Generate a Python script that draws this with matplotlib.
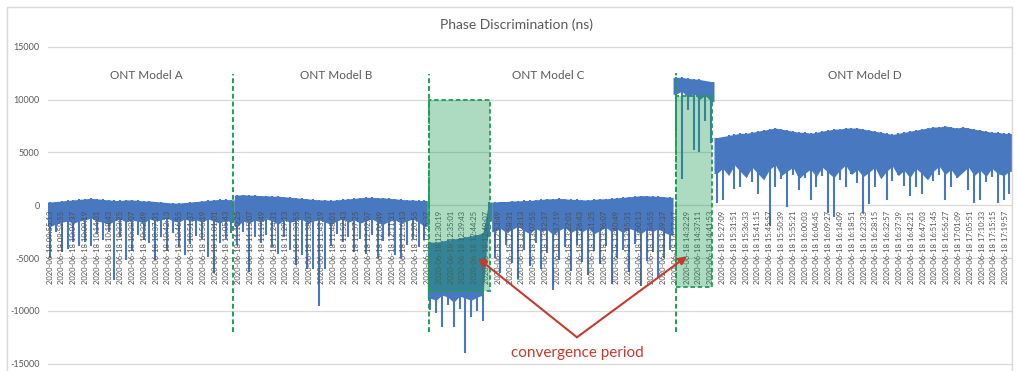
import numpy as np
import matplotlib
matplotlib.use("Agg")
import matplotlib.pyplot as plt
from matplotlib.patches import Rectangle

# ---------------- data ----------------
# each model segment: upper envelope, dense floor, spike minimum (ns)
model_a_top = [300, 350, 400, 450, 500, 550, 600, 650, 600, 550, 500, 450, 450, 500, 500, 450,
               400, 400, 350, 300, 250, 200, 200, 250, 300, 350, 400, 450, 500, 550, 550, 500]
model_a_floor = [-2000, -1800, -1600, -1500, -1700, -1500, -1400, -1200, -1500, -1600, -1800,
                 -1500, -1300, -1600, -1400, -1500, -1700, -1300, -1500, -1400, -1200, -1500,
                 -1600, -1300, -1500, -1400, -1600, -1300, -1500, -1700, -1400, -1600]
model_a_low = [-5000, -2500, -4400, -4100, -3500, -3900, -3500, -3900, -2700, -3300, -2500,
               -7100, -3000, -5200, -4300, -2800, -3300, -3600, -5200, -3000, -4300, -2600,
               -4000, -4700, -3700, -2900, -3200, -4900, -6400, -3600, -3200, -2600]

model_b_top = [950, 1000, 950, 950, 900, 900, 850, 850, 800, 750, 700, 650, 600, 550, 500, 500,
               450, 500, 550, 600, 650, 700, 750, 750, 700, 700, 650, 600, 550, 500, 500, 450, 450]
model_b_floor = [-2000, -1500, -1700, -1400, -1600, -1300, -1500, -1800, -1400, -1600, -1500,
                 -1300, -1700, -1500, -1400, -1600, -1800, -1500, -1300, -1600, -1400, -1700,
                 -1500, -1300, -1600, -1800, -1500, -1400, -1700, -1500, -1300, -1600, -2000]
model_b_low = [-3800, -2500, -6300, -3000, -3600, -2800, -4000, -4600, -3000, -4200, -5700,
               -4700, -6000, -6000, -9500, -6000, -3900, -2700, -3500, -3000, -4400, -3200,
               -4600, -2800, -5000, -3400, -2900, -4700, -5000, -3800, -3200, -4000, -3300]

conv_c_top = [-3500, -3500, -3400, -3300, -3200, -3100, -3000, -2900, -2800, -2600, 300]
conv_c_floor = [-8800, -9000, -8500, -8700, -9200, -8600, -8800, -9000, -8700, -8500, -1500]
conv_c_low = [-9900, -10200, -11500, -9400, -11500, -9800, -14000, -10600, -10000, -11000, -3000]

model_c_top = [300, 350, 350, 400, 400, 450, 450, 500, 550, 600, 600, 650, 600, 550, 550, 500,
               500, 550, 600, 600, 650, 700, 750, 800, 850, 900, 900, 850, 850, 800, 750]
model_c_floor = [-2500, -2200, -2600, -2300, -2000, -2400, -2700, -2200, -2500, -2300, -2800,
                 -2400, -2100, -2600, -2300, -2500, -2200, -2700, -2400, -2100, -2500, -2300,
                 -2600, -2200, -2400, -2700, -2300, -2500, -2200, -2600, -2800]
model_c_low = [-5000, -6400, -3800, -5500, -7000, -4200, -5800, -3600, -6000, -4500, -8000,
               -5200, -4000, -6200, -3800, -5400, -6600, -4300, -5600, -3900, -7500, -5000,
               -4200, -6300, -3700, -7600, -5300, -4400, -6800, -5000, -4200]

conv_d_top = [12100, 12100, 12000, 11950, 11900, 11800, 11700]
conv_d_floor = [10500, 10800, 10200, 10600, 10000, 10400, 9800]
conv_d_low = [7000, 2500, 9000, 5200, 5000, 8000, 5900]

model_d_top = [6400, 6500, 6600, 6700, 6800, 6800, 6900, 7000, 7100, 7200, 7300, 7200, 7100,
               7000, 6900, 6900, 6800, 6900, 7000, 7100, 7200, 7200, 7300, 7300, 7300, 7200,
               7100, 7000, 6900, 6800, 6700, 6800, 6900, 7000, 7100, 7200, 7300, 7400, 7400,
               7500, 7400, 7300, 7400, 7300, 7200, 7100, 7000, 6900, 6900, 6800, 6800]
model_d_floor = [3000, 3500, 2800, 3800, 3200, 2600, 3600, 3000, 2400, 3400, 3800, 2800, 3200,
                 3600, 2500, 3000, 3400, 2700, 3600, 3100, 2600, 3300, 3800, 2900, 3400, 2700,
                 3100, 3600, 2500, 3200, 3700, 2800, 3300, 2600, 3500, 3000, 2400, 3200, 3700,
                 2900, 3400, 2600, 3100, 3600, 2800, 3300, 2700, 3500, 3000, 2800, 3200]
model_d_low = [200, 500, 3300, 1500, 1700, 4900, 2200, 1100, 2800, -2000, 1700, 2500, -200,
               2900, 1400, 2600, 500, 1700, 2800, -700, -1100, 2400, 1700, 3000, 2100, -700,
               100, 1700, 2700, 500, 2300, 2900, 1800, 900, 1700, 1100, 2500, 2300, 2900, 500,
               1700, 2600, 3100, 1400, 200, 500, 2200, 2700, 200, 500, 1100]

tick_labels = [
    "2020-06-18 09:55:13", "2020-06-18 09:59:55", "2020-06-18 10:04:37", "2020-06-18 10:09:19",
    "2020-06-18 10:14:01", "2020-06-18 10:18:43", "2020-06-18 10:23:25", "2020-06-18 10:28:07",
    "2020-06-18 10:32:49", "2020-06-18 10:37:31", "2020-06-18 10:42:13", "2020-06-18 10:46:55",
    "2020-06-18 10:51:37", "2020-06-18 10:56:19", "2020-06-18 11:01:01", "2020-06-18 11:05:43",
    "2020-06-18 11:10:25", "2020-06-18 11:15:07", "2020-06-18 11:19:49", "2020-06-18 11:24:31",
    "2020-06-18 11:29:13", "2020-06-18 11:33:55", "2020-06-18 11:38:37", "2020-06-18 11:43:19",
    "2020-06-18 11:48:01", "2020-06-18 11:52:43", "2020-06-18 11:57:25", "2020-06-18 12:02:07",
    "2020-06-18 12:06:49", "2020-06-18 12:11:31", "2020-06-18 12:16:13", "2020-06-18 12:20:55",
    "2020-06-18 12:25:37", "2020-06-18 12:30:19", "2020-06-18 12:35:01", "2020-06-18 12:39:43",
    "2020-06-18 12:44:25", "2020-06-18 12:49:07", "2020-06-18 12:53:49", "2020-06-18 12:58:31",
    "2020-06-18 13:03:13", "2020-06-18 13:07:55", "2020-06-18 13:12:37", "2020-06-18 13:17:19",
    "2020-06-18 13:22:01", "2020-06-18 13:26:43", "2020-06-18 13:31:25", "2020-06-18 13:36:07",
    "2020-06-18 13:40:49", "2020-06-18 13:45:31", "2020-06-18 13:50:13", "2020-06-18 13:54:55",
    "2020-06-18 13:59:37", "2020-06-18 14:27:47", "2020-06-18 14:32:29", "2020-06-18 14:37:11",
    "2020-06-18 14:41:53", "2020-06-18 15:27:09", "2020-06-18 15:31:51", "2020-06-18 15:36:33",
    "2020-06-18 15:41:15", "2020-06-18 15:45:57", "2020-06-18 15:50:39", "2020-06-18 15:55:21",
    "2020-06-18 16:00:03", "2020-06-18 16:04:45", "2020-06-18 16:09:27", "2020-06-18 16:14:09",
    "2020-06-18 16:18:51", "2020-06-18 16:23:33", "2020-06-18 16:28:15", "2020-06-18 16:32:57",
    "2020-06-18 16:37:39", "2020-06-18 16:42:21", "2020-06-18 16:47:03", "2020-06-18 16:51:45",
    "2020-06-18 16:56:27", "2020-06-18 17:01:09", "2020-06-18 17:05:51", "2020-06-18 17:10:33",
    "2020-06-18 17:15:15", "2020-06-18 17:19:57",
]
y_ticks = [-15000, -10000, -5000, 0, 5000, 10000, 15000]
section_names = ["ONT Model A", "ONT Model B", "ONT Model C", "ONT Model D"]

# ---------------- styling ----------------
plt.rcParams["font.family"] = ["Lato", "DejaVu Sans"]
BLUE = "#4878c0"
GREEN = "#1f9d55"
RED = "#c43b2f"
GRAY = "#595959"
GRID = "#d9d9d9"
STEP = 0.4958  # sample spacing in category units

segments = [
    (model_a_top, model_a_floor, model_a_low),
    (model_b_top, model_b_floor, model_b_low),
    (conv_c_top, conv_c_floor, conv_c_low),
    (model_c_top, model_c_floor, model_c_low),
    (conv_d_top, conv_d_floor, conv_d_low),
    (model_d_top, model_d_floor, model_d_low),
]

W, H = 1017, 371
fig = plt.figure(figsize=(W / 100, H / 100), dpi=100)
fig.patches.append(Rectangle((7 / W, -0.05), 1005 / W, 1.05 - 7 / H, transform=fig.transFigure,
                             fill=False, ec=GRID, lw=1.0))
ax = fig.add_axes([48 / W, 1 - 363.7 / H, 964 / W, (363.7 - 46.7) / H])
ax.set_xlim(-0.17, 81.53)
ax.set_ylim(-15000, 15000)

for v in y_ticks:
    ax.axhline(v, color=GRID, lw=0.9, zorder=0, clip_on=False)

offset = 0
for seg_top, seg_floor, seg_low in segments:
    n = len(seg_top)
    xs = (offset + np.arange(n)) * STEP
    # extend each segment half a step on both sides so segments abut vertically
    xe = np.concatenate([[xs[0] - STEP / 2], xs, [xs[-1] + STEP / 2]])
    te = np.concatenate([[seg_top[0]], seg_top, [seg_top[-1]]])
    fe = np.concatenate([[seg_floor[0]], seg_floor, [seg_floor[-1]]])
    ax.fill_between(xe, fe, te, color=BLUE, lw=0, zorder=2)
    ax.vlines(xs, seg_low, seg_top, color=BLUE, lw=1.5, zorder=2)
    offset += n

# axes / ticks
for s in ax.spines.values():
    s.set_visible(False)
ax.spines["bottom"].set_position(("data", 0))
ax.set_xticks(np.arange(len(tick_labels)))
ax.set_xticklabels(tick_labels, rotation=90, fontsize=5.5, color="#505050")
ax.tick_params(axis="x", length=0, pad=4)
ax.xaxis.set_zorder(2.6)
ax.set_yticks(y_ticks)
ax.set_yticklabels([str(v) for v in y_ticks], fontsize=6.5, color=GRAY)
ax.tick_params(axis="y", length=0, pad=6)

# model boundaries and convergence boxes
dash = (0, (2.5, 1.5))
for xb, y0, y1 in [(15.51, -12030, 12450), (32.12, -12030, 12450), (53.05, -12030, 12550)]:
    ax.plot([xb, xb], [y0, y1], color=GREEN, ls=dash, lw=1.4, zorder=3)
for (x0, x1, y0, y1) in [(32.12, 37.29, -8144, 9943), (53.05, 56.1, -7770, 10320)]:
    ax.add_patch(Rectangle((x0, y0), x1 - x0, y1 - y0, facecolor=(0.08, 0.6, 0.32, 0.35),
                           edgecolor=GREEN, ls=dash, lw=1.3, zorder=3))

for name, xp in zip(section_names, [8.19, 24.24, 42.26, 69.07]):
    ax.text(xp, 12310, name, ha="center", va="center", fontsize=8.5, color=GRAY, zorder=4)

# annotation
for tx, ty in [(36.27, -5019), (53.98, -4830)]:
    ax.annotate("", xy=(tx, ty), xytext=(44.66, -12500),
                arrowprops=dict(arrowstyle="-|>", color=RED, lw=1.5, mutation_scale=12,
                                shrinkA=0, shrinkB=0), zorder=5)
ax.text(44.66, -14015, "convergence period", ha="center", va="center", fontsize=11,
        color=RED, zorder=5, clip_on=False)

fig.text(517 / W, 1 - 25 / H, "Phase Discrimination (ns)", ha="center", va="center",
         fontsize=10, color=GRAY)

fig.savefig("out.png", dpi=100)
